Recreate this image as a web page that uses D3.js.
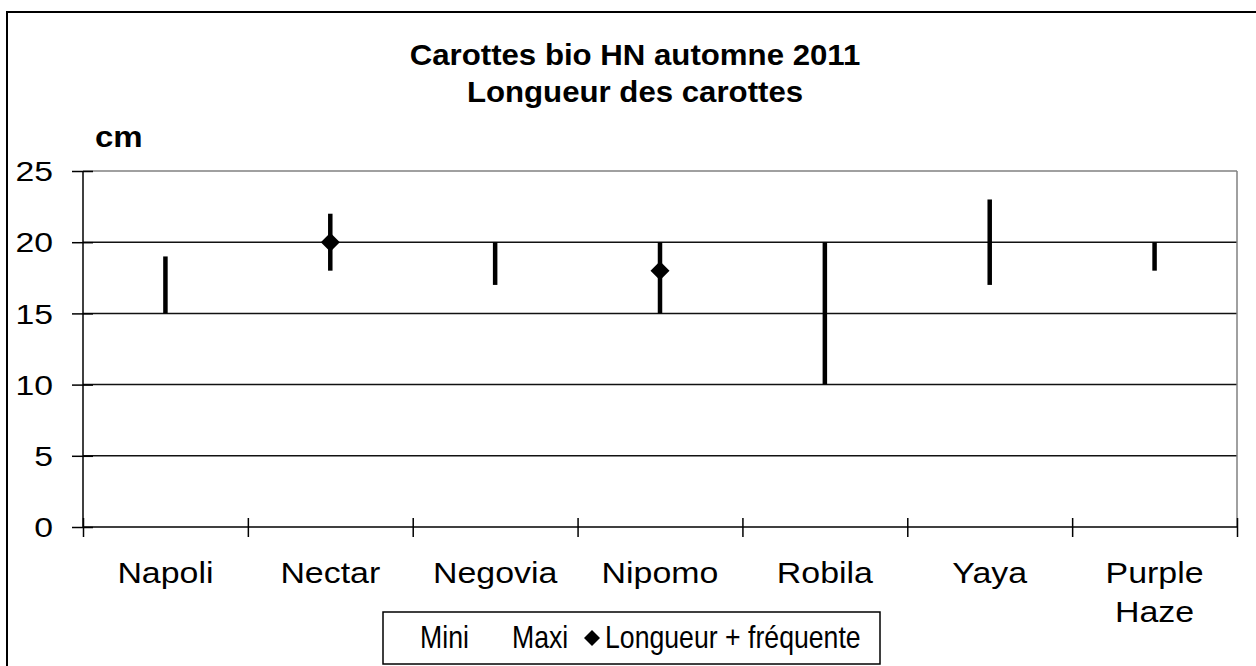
<!DOCTYPE html>
<html>
<head>
<meta charset="utf-8">
<script src="https://cdn.jsdelivr.net/npm/d3@7"></script>
<style>
  html, body { margin: 0; padding: 0; background: #fff; }
  svg { display: block; font-family: "Liberation Sans", Arial, sans-serif; }
</style>
</head>
<body>
<svg id="chart" width="1256" height="666"></svg>
<script>
const categories = ["Napoli", "Nectar", "Negovia", "Nipomo", "Robila", "Yaya", "Purple Haze"];
const mini = [15, 18, 17, 15, 10, 17, 18];
const maxi = [19, 22, 20, 20, 20, 23, 20];
const frequente = [null, 20, null, 18, null, null, null];
const yTicks = [0, 5, 10, 15, 20, 25];
const titleLines = ["Carottes bio HN automne 2011", "Longueur des carottes"];
const legendLabels = ["Mini", "Maxi", "Longueur + fréquente"];

const svg = d3.select("#chart");
const L = 83, R = 1237, T = 171, B = 527;

// outer border (right and bottom edges fall outside the picture)
svg.append("rect").attr("x", 7).attr("y", 12).attr("width", 1280).attr("height", 680)
  .attr("fill", "none").attr("stroke", "#000").attr("stroke-width", 2);

const x = d3.scaleBand().domain(categories).range([L, R]).padding(0);
const y = d3.scaleLinear().domain([0, 25]).range([B, T]);
const xb = d3.scaleLinear().domain([0, categories.length]).range([L, R]);

// gridlines
svg.append("g").selectAll("line").data(yTicks.filter(v => v > 0)).join("line")
  .attr("x1", L).attr("x2", R).attr("y1", d => y(d)).attr("y2", d => y(d))
  .attr("stroke", d => d === 25 ? "#808080" : "#111").attr("stroke-width", 1.5);

// plot area border right
svg.append("line").attr("x1", R).attr("x2", R).attr("y1", T).attr("y2", B)
  .attr("stroke", "#808080").attr("stroke-width", 1.5);

// y axis
const ySX = 1.25;
const gy = svg.append("g").attr("transform", `translate(${L},0)`)
  .call(d3.axisLeft(y).tickValues(yTicks).tickSize(10).tickPadding(30));
gy.select(".domain").remove();
gy.selectAll(".tick line").attr("x1", -11).attr("x2", 10).attr("stroke", "#000").attr("stroke-width", 1.5);
gy.selectAll(".tick text").attr("font-size", 27).attr("fill", "#000")
  .attr("font-family", '"Liberation Sans", Arial, sans-serif')
  .attr("x", -30 / ySX).attr("dy", "0.36em")
  .attr("transform", `scale(${ySX},1)`);
svg.append("line").attr("x1", L).attr("x2", L).attr("y1", T).attr("y2", B)
  .attr("stroke", "#000").attr("stroke-width", 1.5);

// x axis
const gx = svg.append("g").attr("transform", `translate(0,${B})`)
  .call(d3.axisBottom(xb).tickValues(d3.range(categories.length + 1)).tickFormat("").tickSize(10));
gx.select(".domain").remove();
gx.selectAll(".tick line").attr("y1", -9).attr("y2", 10).attr("stroke", "#000").attr("stroke-width", 1.5);
svg.append("line").attr("x1", L).attr("x2", R).attr("y1", B).attr("y2", B)
  .attr("stroke", "#000").attr("stroke-width", 1.5);

// x labels
const xl = svg.append("g").selectAll("text").data(categories).join("text")
  .attr("transform", d => `translate(${x(d) + x.bandwidth() / 2},583) scale(1.13,1)`)
  .attr("text-anchor", "middle").attr("font-size", 30).attr("fill", "#000");
xl.each(function (d) {
  const t = d3.select(this);
  d.split(" ").forEach((w, i) => {
    t.append("tspan").attr("x", 0).attr("dy", i === 0 ? 0 : 39).text(w);
  });
});

// high-low lines
svg.append("g").selectAll("line").data(categories).join("line")
  .attr("x1", d => x(d) + x.bandwidth() / 2).attr("x2", d => x(d) + x.bandwidth() / 2)
  .attr("y1", (d, i) => y(mini[i])).attr("y2", (d, i) => y(maxi[i]))
  .attr("stroke", "#000").attr("stroke-width", 4.5);

// diamonds
const dia = (cx, cy, hw, hh) => `M${cx},${cy - hh}L${cx + hw},${cy}L${cx},${cy + hh}L${cx - hw},${cy}Z`;
svg.append("g").selectAll("path").data(categories.map((c, i) => ({ c, v: frequente[i] })).filter(d => d.v != null))
  .join("path")
  .attr("d", d => dia(x(d.c) + x.bandwidth() / 2, y(d.v), 9.5, 9.5))
  .attr("fill", "#000");

// title
svg.append("g").selectAll("text").data(titleLines).join("text")
  .attr("transform", (d, i) => `translate(635,${65 + i * 37}) scale(1.04,1)`)
  .attr("text-anchor", "middle").attr("font-size", 30).attr("font-weight", "bold").attr("fill", "#000")
  .text(d => d);

// unit
svg.append("text").attr("transform", "translate(95,147) scale(1.1,1)")
  .attr("font-size", 30).attr("font-weight", "bold").text("cm");

// legend
svg.append("rect").attr("x", 383).attr("y", 612).attr("width", 497).attr("height", 52)
  .attr("fill", "#fff").attr("stroke", "#000").attr("stroke-width", 1.5);
const legX = [420, 512, 605];
svg.append("g").selectAll("text").data(legendLabels).join("text")
  .attr("transform", (d, i) => `translate(${legX[i]},648) scale(0.86,1)`)
  .attr("font-size", 31).attr("fill", "#000").text(d => d);
svg.append("path").attr("d", dia(592, 638, 8, 8)).attr("fill", "#000");
</script>
</body>
</html>
